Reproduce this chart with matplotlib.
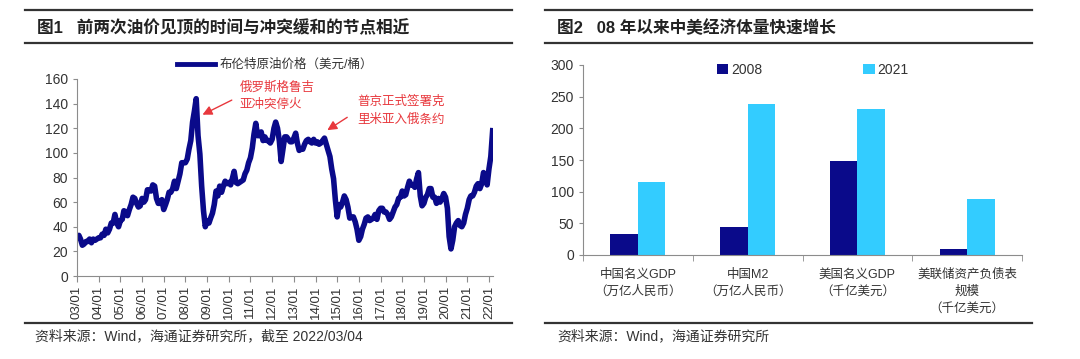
import matplotlib
matplotlib.use("Agg")
import matplotlib.pyplot as plt
from matplotlib.lines import Line2D
import numpy as np
import pandas as pd

plt.rcParams['font.family'] = ['Liberation Sans', 'Noto Sans CJK SC', 'DejaVu Sans']

# Brent monthly prices (USD/bbl), 2003/01 - 2022/02
brent_by_year = {
    2003: [31, 33, 30, 25, 26, 28, 28, 30, 27, 30, 29, 30],
    2004: [31, 31, 34, 33, 38, 35, 38, 43, 43, 50, 43, 40],
    2005: [45, 46, 53, 52, 49, 54, 58, 64, 63, 59, 56, 57],
    2006: [63, 60, 62, 70, 70, 69, 74, 73, 63, 59, 59, 62],
    2007: [54, 58, 62, 68, 68, 71, 77, 71, 77, 83, 92, 92],
    2008: [92, 95, 103, 110, 125, 134, 144, 114, 99, 73, 53, 40],
    2009: [45, 43, 47, 51, 58, 69, 65, 73, 68, 73, 77, 75],
    2010: [76, 74, 79, 85, 76, 75, 76, 77, 78, 83, 86, 92],
    2011: [96, 104, 115, 124, 114, 114, 117, 110, 113, 110, 110, 108],
    2012: [111, 120, 125, 120, 110, 93, 103, 113, 113, 111, 109, 109],
    2013: [112, 116, 108, 102, 103, 103, 107, 110, 111, 109, 108, 111],
    2014: [108, 109, 107, 108, 110, 112, 107, 102, 97, 87, 79, 62],
    2015: [48, 58, 56, 60, 65, 62, 56, 47, 48, 48, 44, 38],
    2016: [29, 32, 38, 42, 47, 48, 45, 46, 47, 50, 46, 53],
    2017: [55, 55, 52, 52, 50, 46, 48, 52, 56, 58, 63, 64],
    2018: [69, 65, 66, 72, 77, 74, 74, 72, 79, 84, 65, 57],
    2019: [59, 64, 66, 71, 71, 64, 64, 59, 63, 60, 63, 67],
    2020: [64, 55, 32, 22, 29, 40, 43, 45, 41, 40, 43, 50],
    2021: [55, 62, 65, 65, 68, 73, 75, 71, 75, 84, 81, 74],
    2022: [87, 97],
}
brent_last = 118  # 2022/03/04

years_tick = [str(y)[-2:] + '/01' for y in range(2003, 2023)]

# right chart
categories = ['中国名义GDP\n（万亿人民币）', '中国M2\n（万亿人民币）',
              '美国名义GDP\n（千亿美元）', '美联储资产负债表\n规模\n（千亿美元）']
vals_2008 = [33, 45, 148, 10]
vals_2021 = [115, 238, 230, 88]

navy = '#0a0a8a'
light = '#33ccff'
red = '#e8383d'
grey = '#8c8c8c'
txt = '#333333'
fam = ['Liberation Sans', 'Noto Sans CJK SC', 'DejaVu Sans']

W, H = 1080, 359
fig = plt.figure(figsize=(W / 100, H / 100), dpi=100)


def px(x0, y0, x1, y1):
    return [x0 / W, 1 - y1 / H, (x1 - x0) / W, (y1 - y0) / H]


def hline(x0, x1, y, lw=1.6):
    fig.add_artist(Line2D([x0 / W, x1 / W], [1 - y / H, 1 - y / H],
                          color='#333333', lw=lw, transform=fig.transFigure))


# frame lines and titles
for x0, x1 in [(25, 512), (545, 1032)]:
    hline(x0, x1, 10)
    hline(x0, x1, 43)
    hline(x0, x1, 323)

fig.text(37 / W, 1 - 28 / H, '图1   前两次油价见顶的时间与冲突缓和的节点相近', family=fam,
         fontsize=12, fontweight='bold', color='#222222', va='center')
fig.text(557 / W, 1 - 28 / H, '图2   08 年以来中美经济体量快速增长', family=fam,
         fontsize=12, fontweight='bold', color='#222222', va='center')
fig.text(35 / W, 1 - 336 / H, '资料来源：Wind，海通证券研究所，截至 2022/03/04', family=fam,
         fontsize=10, color='#333333', va='center')
fig.text(557 / W, 1 - 336 / H, '资料来源：Wind，海通证券研究所', family=fam,
         fontsize=10, color='#333333', va='center')

# ---- left: Brent line
prices = []
for y in sorted(brent_by_year):
    prices += brent_by_year[y]
dates = list(pd.date_range('2003-01-01', periods=len(prices), freq='MS'))
dates.append(pd.Timestamp('2022-03-04'))
prices.append(brent_last)

ax1 = fig.add_axes(px(77, 79, 493, 276))
ax1.plot(dates, prices, color=navy, lw=4, solid_joinstyle='round')
ax1.set_xlim(pd.Timestamp('2003-01-01'), pd.Timestamp('2022-03-10'))
ax1.set_ylim(0, 160)
ax1.set_yticks(np.arange(0, 161, 20))
ticks = [pd.Timestamp(f'{y}-01-01') for y in range(2003, 2023)]
ax1.set_xticks(ticks)
ax1.set_xticklabels(years_tick, rotation=90, fontsize=9.5, color=txt)
ax1.tick_params(axis='y', labelsize=10, colors=txt, length=3, color=grey)
ax1.tick_params(axis='x', length=4, color=grey, pad=3)
for s in ['top', 'right']:
    ax1.spines[s].set_visible(False)
for s in ['left', 'bottom']:
    ax1.spines[s].set_color(grey)
leg1 = ax1.legend([Line2D([], [], color=navy, lw=3.5)], ['布伦特原油价格（美元/桶）'],
                  loc='center left', bbox_to_anchor=(100 / 416, 1 + 14 / 197), frameon=False,
                  prop={'family': fam, 'size': 9}, handlelength=3, handletextpad=0.4,
                  borderaxespad=0, borderpad=0)
for t in leg1.get_texts():
    t.set_color(txt)

ax1.annotate('俄罗斯格鲁吉\n亚冲突停火', xy=(pd.Timestamp('2008-10-15'), 131),
             xytext=(pd.Timestamp('2010-07-01'), 146), color=red, fontsize=9,
             family=fam, ha='left', va='center', linespacing=1.6,
             arrowprops=dict(arrowstyle='-|>', color=red, lw=1, mutation_scale=14,
                             shrinkA=4, shrinkB=0, relpos=(0, 0.5)))
ax1.annotate('普京正式签署克\n里米亚入俄条约', xy=(pd.Timestamp('2014-05-01'), 116),
             xytext=(pd.Timestamp('2015-12-01'), 134), color=red, fontsize=9,
             family=fam, ha='left', va='center', linespacing=1.6,
             arrowprops=dict(arrowstyle='-|>', color=red, lw=1, mutation_scale=14,
                             shrinkA=6, shrinkB=4, relpos=(0, 0.5)))

# ---- right: bars
ax2 = fig.add_axes(px(583, 65, 1022, 255))
x = np.arange(len(categories))
bw = 0.25
ax2.bar(x - bw / 2, vals_2008, bw, color=navy, label='2008')
ax2.bar(x + bw / 2, vals_2021, bw, color=light, label='2021')
ax2.set_xlim(-0.5, len(categories) - 0.5)
ax2.set_ylim(0, 300)
ax2.set_yticks(np.arange(0, 301, 50))
ax2.set_xticks(x)
ax2.set_xticklabels(categories, family=fam, fontsize=9, color=txt, linespacing=1.5)
ax2.set_xticks(np.arange(-0.5, len(categories), 1), minor=True)
ax2.tick_params(axis='x', which='major', length=0, pad=10)
ax2.tick_params(axis='x', which='minor', length=4, color=grey)
ax2.tick_params(axis='y', labelsize=10, colors=txt, length=3, color=grey)
for s in ['top', 'right']:
    ax2.spines[s].set_visible(False)
for s in ['left', 'bottom']:
    ax2.spines[s].set_color(grey)
leg2 = ax2.legend(loc='center left', bbox_to_anchor=((717 - 583) / 439, 1 - 5 / 190),
                  ncol=2, frameon=False, fontsize=10, handlelength=0.8, handleheight=0.8,
                  handletextpad=0.2, columnspacing=7.3, borderaxespad=0, borderpad=0)
for t in leg2.get_texts():
    t.set_color(txt)

fig.savefig('out.png', dpi=100)
